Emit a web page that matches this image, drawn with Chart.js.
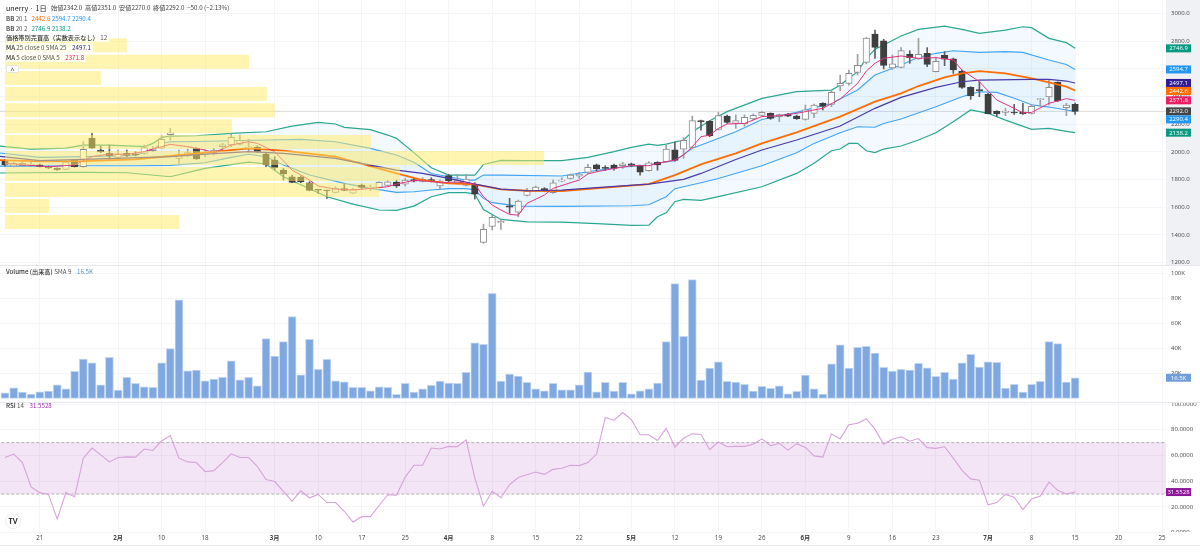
<!DOCTYPE html>
<html lang="ja">
<head>
<meta charset="utf-8">
<title>unerry 1日</title>
<script src="https://cdn.jsdelivr.net/npm/chart.js@4"></script>
<style>
html,body{margin:0;padding:0;background:#fff;width:1200px;height:552px;overflow:hidden}
canvas{position:absolute;left:0}
#axisBg{position:absolute;left:1166px;top:0;width:34px;height:265px;background:#eff1f5}
.t{position:absolute;white-space:nowrap;font-family:"Noto Sans CJK JP","Noto Sans",sans-serif;font-size:6.2px;line-height:8px;color:#555;left:6px;z-index:5}
.t b{font-weight:500;color:#333}
.bgw{background:rgba(255,255,255,.75);padding-right:2px}
.sep{position:absolute;left:0;width:1200px;height:1px;background:#e6e8ed;z-index:4}
#btn{position:absolute;left:6px;top:65px;width:13px;height:8px;background:#fff;border:1px solid #e4e4e4;border-radius:2px;font:7px/9px "Noto Sans",sans-serif;color:#444;text-align:center;box-sizing:border-box;z-index:5}
#logo{position:absolute;left:5px;top:513px;width:16px;height:16px;border-radius:50%;background:#fff;border:1px solid #eee;font:bold 7px/15px Lato,sans-serif;color:#111;text-align:center;box-sizing:border-box;z-index:5}
#cut{position:absolute;left:1166px;top:532px;width:34px;height:13px;background:#fff;z-index:4}
</style>
</head>
<body>
<div id="axisBg"></div>
<canvas id="price" style="top:0" width="1200" height="265"></canvas>
<canvas id="volume" style="top:265px" width="1200" height="137"></canvas>
<canvas id="rsi" style="top:402px" width="1200" height="146"></canvas>
<div id="cut"></div>
<div class="sep" style="top:265px"></div>
<div class="sep" style="top:402px"></div>
<div class="sep" style="top:545px"></div>
<div class="t" style="top:3px;font-size:7.2px;line-height:10px;color:#222">unerry · 1日</div>
<div class="t" style="top:4px;left:51px;font-size:6.2px;line-height:8px;color:#444">始値2342.0 &nbsp;高値2351.0 &nbsp;安値2270.0 &nbsp;終値2292.0 &nbsp;−50.0 (−2.13%)</div>
<div class="t" style="top:15px"><b>BB</b> 20 1 &nbsp; <span style="color:#ff6d00">2442.6</span> <span style="color:#2196f3">2594.7</span> <span style="color:#2196f3">2290.4</span></div>
<div class="t" style="top:25px"><b>BB</b> 20 2 &nbsp; <span style="color:#089981">2746.9</span> <span style="color:#089981">2138.2</span></div>
<div class="t" style="top:34px"><span class="bgw"><b>価格帯別売買高（実数表示なし）</b> 12</span></div>
<div class="t" style="top:44px"><span class="bgw"><b>MA</b> 25 close 0 SMA 25 &nbsp;&nbsp; <span style="color:#311b92">2497.1</span></span></div>
<div class="t" style="top:54px"><span class="bgw"><b>MA</b> 5 close 0 SMA 5 &nbsp;&nbsp; <span style="color:#e91e63">2371.8</span></span></div>
<div id="btn">^</div>
<div class="t" style="top:268px"><b>Volume (出来高)</b> SMA 9 &nbsp;&nbsp; <span style="color:#5b8fd6">16.5K</span></div>
<div class="t" style="top:402px"><b>RSI</b> 14 &nbsp;&nbsp; <span style="color:#9c27b0">31.5528</span></div>
<div id="logo">TV</div>
<script>
const opens=[1941,1897,1900,1905,1907,1892,1880,1873,1941,1892,2099,2013,1989,1960,1989,1986,1989,2008,2027,2124,1953,1974,2025,1977,1994,2037,2049,2056,2025,2032,1984,1941,1868,1820,1818,1777,1729,1724,1707,1734,1702,1758,1738,1743,1758,1782,1767,1799,1787,1799,1753,1828,1775,1758,1760,1346,1462,1488,1611,1565,1685,1717,1734,1705,1789,1808,1825,1852,1907,1888,1905,1900,1914,1900,1864,1924,1929,2015,2020,2032,2225,2220,2162,2258,2205,2203,2237,2263,2278,2254,2273,2258,2234,2278,2350,2343,2475,2494,2574,2646,2850,2802,2605,2610,2706,2670,2711,2579,2696,2672,2583,2465,2449,2417,2292,2285,2287,2285,2278,2376,2396,2501,2319,2342];
const highs=[1945,1924,1929,1929,1912,1897,1885,1931,1945,2073,2133,2042,2049,2013,2013,2001,2049,2037,2121,2169,2013,2020,2030,2013,2025,2061,2128,2121,2090,2042,1989,1965,1880,1832,1825,1784,1729,1724,1748,1772,1736,1767,1760,1784,1789,1796,1808,1808,1813,1813,1796,1837,1837,1837,1777,1478,1543,1503,1664,1652,1736,1753,1741,1796,1813,1840,1852,1909,1912,1900,1912,1924,1919,1905,1929,1929,2049,2073,2102,2258,2229,2225,2285,2266,2266,2266,2273,2290,2282,2273,2278,2266,2338,2345,2355,2441,2554,2590,2704,2826,2879,2812,2699,2752,2730,2819,2752,2682,2723,2677,2590,2470,2506,2422,2297,2314,2343,2350,2343,2386,2518,2506,2350,2351];
const lows=[1897,1892,1895,1892,1890,1878,1866,1871,1888,1888,2025,1994,1945,1953,1965,1970,1984,2001,2022,2085,1905,1965,1945,1965,1977,2008,2037,2049,2001,1994,1892,1868,1796,1777,1777,1719,1700,1664,1705,1719,1700,1729,1719,1741,1755,1743,1753,1782,1782,1782,1729,1784,1767,1753,1659,1339,1435,1440,1556,1531,1681,1712,1712,1700,1784,1803,1808,1844,1861,1864,1868,1880,1892,1832,1861,1868,1924,1933,1953,2025,2157,2109,2157,2205,2169,2186,2229,2258,2234,2217,2254,2234,2229,2246,2302,2326,2441,2482,2554,2634,2675,2598,2595,2605,2639,2668,2615,2576,2622,2566,2458,2379,2398,2273,2254,2261,2270,2270,2273,2331,2338,2362,2261,2270];
const closes=[1905,1917,1917,1912,1895,1883,1871,1926,1892,2018,2027,2001,1972,1982,1974,1977,2030,2022,2090,2138,1972,1994,1948,1994,2013,2051,2104,2083,2035,2001,1905,1885,1840,1779,1784,1722,1724,1719,1734,1722,1729,1743,1743,1779,1784,1753,1796,1789,1801,1787,1789,1791,1796,1803,1695,1440,1527,1498,1601,1645,1717,1746,1719,1777,1796,1832,1840,1888,1876,1880,1880,1914,1902,1854,1921,1905,2020,1938,2083,2225,2217,2114,2261,2213,2225,2249,2263,2285,2241,2268,2258,2239,2304,2338,2328,2429,2494,2566,2624,2822,2754,2624,2636,2730,2680,2704,2631,2653,2668,2591,2465,2405,2441,2275,2273,2294,2280,2275,2328,2384,2465,2367,2338,2292];
const volumes=[4.5,8.5,5.1,3.5,5.3,5.9,10.9,7.7,21.6,31.5,28.5,10.9,32.8,6.7,16.8,12,9.3,8.8,28.5,39.7,78.7,22.1,22.7,14.1,15.5,16.8,30.1,14.9,16.8,10.1,47.7,33.9,45.3,65.3,18.9,47.2,23.2,31.2,14.1,13.3,8.8,8.8,6.1,9.3,8.8,3.2,12,5.1,7.7,10.4,13.9,12.3,12,20.8,44.3,43.2,84,13.9,19.5,17.9,12.8,7.7,6.1,12,6.9,6.9,10.9,21.1,5.3,12.8,5.9,12.8,3.7,6.1,7.7,12.3,45.3,91.7,49.6,94.9,14.7,24.3,29.3,13.6,13.1,11.2,5.9,9.6,8,10.1,3.7,5.6,18.7,7.7,3.5,27.7,42.7,24.3,40.8,41.6,36.3,24.8,21.9,23.2,22.7,28,24.5,17.6,20.8,15.5,28.5,35.2,25.1,29.3,28.8,8.3,11.2,5.1,11.2,13.6,45.3,43.7,13.1,16.5];
const rsiValues=[58.4,61.1,54.5,35.5,31.1,29.7,10.5,31.1,27.9,57.9,65.8,60.5,55,58.4,58.9,58.7,65,63.9,71.3,75.5,57.9,55,54.5,47.4,48.2,54.5,61.3,58.4,58.4,51.6,41.3,39.7,32.1,24.5,32.6,27.1,29.7,23.4,23.4,16.6,8.2,12.4,12.4,21.1,29.5,29.2,43.2,52.4,52.4,65.8,65,67.1,66.8,72.1,42.6,20.5,32.1,27.1,37.4,42.9,45,47.1,45.3,49.2,50,52.4,52.1,54.5,61.1,89.5,87.4,93.4,87.9,76.1,76.1,71.6,81.1,66.6,73.4,76.8,76.3,64.5,70.5,66.8,67.1,67.1,68.7,72.9,67.6,69.5,64.2,69.2,66.3,59.7,58.7,76.8,72.9,83.9,85,88.4,80.5,68.7,72.6,74.5,71.1,73.2,66.1,65.5,66.8,57.9,48.4,41.8,40.8,21.6,23.4,29.7,27.6,17.9,26.1,28.4,39.2,32.9,30,31.5528];

const bb2UpperX=[-1,3,7,9,12,16,17,18,19,22,26,30,33,36,38,39,42,44,45,47,49,51,54,55,57,60,64,67,70,72,74,75,76,78,79,81,83,87,91,95,96,98,99,100,101,103,105,108,110,112,115,117,118,120,122,123];
const bb2UpperY=[2044,2020,2027,2049,2049,2037,2061,2104,2114,2116,2133,2145,2186,2213,2201,2177,2160,2121,2097,1994,1885,1832,1832,1909,1938,1936,1936,1960,2001,2032,2056,2047,2056,2085,2145,2225,2290,2386,2434,2446,2482,2579,2675,2740,2771,2836,2884,2908,2884,2855,2879,2903,2896,2819,2788,2746.9];
const bb2LowerX=[-1,3,9,14,19,23,28,30,32,37,40,43,45,47,49,51,53,54,55,57,60,64,68,72,74,75,76,77,78,80,82,87,91,93,95,96,97,98,99,100,101,103,105,107,109,111,113,115,118,120,122,123];
const bb2LowerY=[1847,1849,1852,1849,1820,1880,1926,1912,1820,1676,1623,1580,1577,1608,1676,1705,1705,1695,1584,1512,1495,1493,1481,1469,1471,1531,1560,1640,1657,1649,1676,1748,1844,1917,2008,2020,2061,2061,2008,1994,2020,2042,2085,2138,2217,2302,2278,2229,2162,2169,2148,2138.2];
const bb1UpperX=[-1,4,9,15,17,18,19,22,26,30,34,38,42,45,47,49,51,53,54,55,57,64,67,70,73,77,79,81,84,87,91,95,98,100,103,105,107,109,112,115,117,120,122,123];
const bb1UpperY=[1994,1960,1965,1974,2018,2061,2073,2075,2080,2085,2090,2073,2025,1977,1924,1844,1820,1796,1796,1832,1832,1825,1856,1885,1900,1936,2025,2073,2145,2234,2285,2350,2446,2554,2627,2682,2711,2730,2718,2723,2718,2663,2631,2594.7];
const bb1LowerX=[-1,4,9,15,19,23,26,28,30,32,35,39,42,45,47,49,51,53,54,55,56,59,64,72,74,76,77,80,82,87,91,93,96,98,100,101,103,107,110,112,114,116,118,120,122,123];
const bb1LowerY=[1897,1897,1900,1900,1902,1921,1960,1982,1965,1905,1832,1772,1736,1707,1712,1724,1734,1734,1724,1664,1633,1608,1606,1611,1618,1676,1734,1777,1808,1900,1994,2061,2138,2181,2177,2205,2237,2326,2398,2434,2429,2386,2340,2323,2302,2290.4];
const basisX=[-1,4,9,15,19,23,28,32,38,45,48,51,54,57,60,64,74,77,80,84,87,91,96,100,103,105,108,110,112,115,118,120,122,123];
const basisY=[1941,1931,1933,1945,1970,1994,2025,2008,1965,1844,1796,1772,1765,1729,1719,1717,1767,1832,1909,1989,2061,2140,2254,2362,2422,2475,2538,2566,2583,2566,2530,2501,2470,2442.6];
const ma25X=[-1,4,9,19,23,28,32,38,45,48,51,54,57,60,64,68,74,78,80,84,87,91,96,100,103,107,110,112,118,120,122,123];
const ma25Y=[1970,1936,1945,1965,1984,2001,1989,1953,1868,1844,1808,1767,1731,1719,1724,1741,1767,1801,1844,1945,2013,2085,2186,2314,2393,2465,2506,2518,2523,2523,2511,2497.1];
const ma5X=[0,5,8,9,10,12,14,16,17,18,19,21,23,24,25,26,28,29,31,33,35,36,38,40,42,44,45,47,49,50,52,54,55,56,57,58,59,60,62,63,65,66,67,68,70,72,74,75,77,78,79,80,81,82,83,85,87,89,91,94,96,98,99,100,101,103,105,107,109,110,112,114,116,117,118,120,122,123];
const ma5Y=[1917,1892,1905,1936,1965,1984,1982,2001,2020,2037,2054,2037,2013,1994,2020,2049,2073,2061,2001,1868,1796,1753,1731,1724,1736,1748,1767,1794,1787,1777,1782,1767,1676,1616,1580,1548,1543,1628,1688,1736,1777,1796,1840,1856,1880,1900,1900,1917,1941,1977,2037,2109,2121,2169,2201,2205,2254,2261,2278,2314,2381,2494,2583,2639,2675,2692,2675,2680,2663,2590,2506,2374,2314,2282,2285,2350,2384,2371.8];

const profileLevels=[2770,2650,2533,2417,2300,2185,2071,1955,1840,1724,1609,1493];
const profileEnds=[14,28.05,11.03,30.1,31,26.1,42.07,61.95,45.4,43,5.06,20.06];

const tickIndexes=[4,13,18,23,31,36,41,46,51,56,61,66,72,77,82,87,92,97,102,107,113,118,123,128,133];
const tickLabels=['21','2月','10','18','3月','10','17','25','4月','8','15','22','5月','12','19','26','6月','9','16','23','7月','8','15','20','25'];
const priceTicks=[3000,2800,2600,2400,2200,2000,1800,1600,1400,1200];
const volumeTicks=[100,80,60,40,20];
const rsiTicks=[100,80,60,40,20,0];
const lastClose=2292;
const priceTags=[[2746.9,'#089981'],[2594.7,'#2196f3'],[2497.1,'#311b92'],[2442.6,'#ff6d00'],[2371.8,'#e91e63'],[2292.0,'#444444'],[2290.4,'#2196f3'],[2138.2,'#089981']];

const GRID='#f4f5f7', TICK='#444', AXFONT='"Open Sans","Noto Sans CJK JP",sans-serif';
const BAND='rgba(33,150,243,0.055)';
const isUp=closes.map((c,i)=>c>=opens[i]);
const xy=(xs,ys)=>xs.map((x,i)=>({x,y:ys[i]}));
const lineDs=(xs,ys,color,width,order,extra)=>Object.assign({type:'line',data:xy(xs,ys),borderColor:color,borderWidth:width,pointRadius:0,tension:0,fill:false,order},extra||{});

function xScale(showLabels,h){
  return {type:'linear',min:-0.575,max:133.45,position:'bottom',offset:false,
    grid:{color:GRID,drawTicks:false,lineWidth:1,offset:false},border:{display:false},
    afterBuildTicks:s=>{s.ticks=tickIndexes.map(v=>({value:v}));},
    afterFit:s=>{s.height=h;s.paddingLeft=0;s.paddingRight=0;},
    ticks:{display:showLabels,autoSkip:false,maxRotation:0,minRotation:0,padding:2,color:TICK,
      font:c=>{const l=tickLabels[c.index]||'';return {family:AXFONT,size:6.2,weight:l.endsWith('月')?'700':'400'};},
      callback:(v,i)=>tickLabels[i]}};
}
function yScale(min,max,vals,fmt){
  return {type:'linear',position:'right',min,max,
    grid:{color:GRID,drawTicks:false,lineWidth:1},border:{display:false},
    afterBuildTicks:s=>{s.ticks=vals.map(v=>({value:v}));},
    afterFit:s=>{s.width=34;s.paddingTop=0;s.paddingBottom=0;},
    ticks:{color:TICK,padding:5,autoSkip:false,font:{family:AXFONT,size:6},callback:fmt}};
}
function tagPlugin(tags,fmt){
  return {id:'tags',afterDraw(chart){
    const s=chart.scales.y,c=chart.ctx,w=25,h=8;let prev=-99;
    c.save();c.textAlign='center';c.textBaseline='middle';c.font='500 6px '+AXFONT;
    tags.forEach(([v,col])=>{
      let y=s.getPixelForValue(v);
      if(y-h/2<prev) y=prev+h/2;
      prev=y+h/2;
      c.fillStyle=col;c.fillRect(s.left,y-h/2,w,h);
      c.fillStyle='#fff';c.fillText(fmt(v),s.left+w/2,y+0.3);
    });
    c.restore();
  }};
}
const base={responsive:false,animation:false,events:[],devicePixelRatio:1,
  layout:{padding:0,autoPadding:false},
  plugins:{legend:{display:false},tooltip:{enabled:false}}};

const opt=o=>Object.assign({},base,o);

const candleBars=(i)=>({x:i,y:[Math.min(opens[i],closes[i]),Math.max(opens[i],closes[i])]});
const idx=opens.map((_,i)=>i);

const profileSets=profileLevels.map((lv,k)=>lineDs([0,profileEnds[k]],[lv,lv],'rgba(255,235,100,0.5)',14,-10,{borderCapStyle:'butt'}));
const n=profileSets.length;
new Chart(document.getElementById('price'),{
  type:'bar',
  data:{datasets:[
    ...profileSets,
    lineDs(ma5X,ma5Y,'#e0357f',1,1),
    lineDs(ma25X,ma25Y,'#4b3aa7',1.2,2),
    lineDs(basisX,basisY,'#ff6d00',1.8,3),
    lineDs(bb1UpperX,bb1UpperY,'#42a5f5',1.1,10,{fill:{target:n+4,above:BAND,below:BAND}}),
    lineDs(bb1LowerX,bb1LowerY,'#42a5f5',1.1,11),
    lineDs(bb2UpperX,bb2UpperY,'#2aa890',1.2,12,{fill:{target:n+6,above:BAND,below:BAND}}),
    lineDs(bb2LowerX,bb2LowerY,'#2aa890',1.2,13),
    {type:'bar',data:idx.map(candleBars),grouped:false,barThickness:6.5,borderWidth:1,borderSkipped:false,
      backgroundColor:idx.map(i=>isUp[i]?'#ffffff':'#3f3f3f'),borderColor:idx.map(i=>isUp[i]?'#8f8f8f':'#3f3f3f'),order:5},
    {type:'bar',data:idx.map(i=>({x:i,y:[lows[i],highs[i]]})),grouped:false,barThickness:1,borderWidth:0,
      backgroundColor:idx.map(i=>isUp[i]?'#a0a0a0':'#5f5f5f'),order:6},
    lineDs([-1,134],[lastClose,lastClose],'#dcdcdc',1,30)
  ]},
  options:opt({scales:{x:xScale(false,0),y:yScale(1183,3096,priceTicks,v=>v.toFixed(1))}}),
  plugins:[tagPlugin(priceTags,v=>v.toFixed(1))]
});

new Chart(document.getElementById('volume'),{
  type:'bar',
  data:{datasets:[{data:idx.map(i=>({x:i,y:volumes[i]})),barThickness:8,grouped:false,
    backgroundColor:'#7ea8df',borderColor:'#c4d7f1',borderWidth:1,borderSkipped:false}]},
  options:opt({scales:{x:xScale(false,0),y:yScale(-2.9,106.6,volumeTicks,v=>v+'K')}}),
  plugins:[tagPlugin([[16.5,'#6f9ed9']],v=>v.toFixed(1)+'K')]
});

new Chart(document.getElementById('rsi'),{
  type:'line',
  data:{datasets:[
    lineDs(idx,rsiValues,'#d6a3da',1.1,1),
    lineDs([-1,134],[70,70],'#b9adba',1,2,{borderDash:[3,2]}),
    lineDs([-1,134],[30,30],'#b9adba',1,2,{borderDash:[3,2],fill:{target:1,above:'rgba(156,39,176,0.12)',below:'rgba(156,39,176,0.12)'}})
  ]},
  options:opt({scales:{x:xScale(true,15),y:yScale(-0.3,101.6,rsiTicks,v=>v.toFixed(4))}}),
  plugins:[tagPlugin([[31.5528,'#8e1599']],v=>v.toFixed(4))]
});
</script>
</body>
</html>
